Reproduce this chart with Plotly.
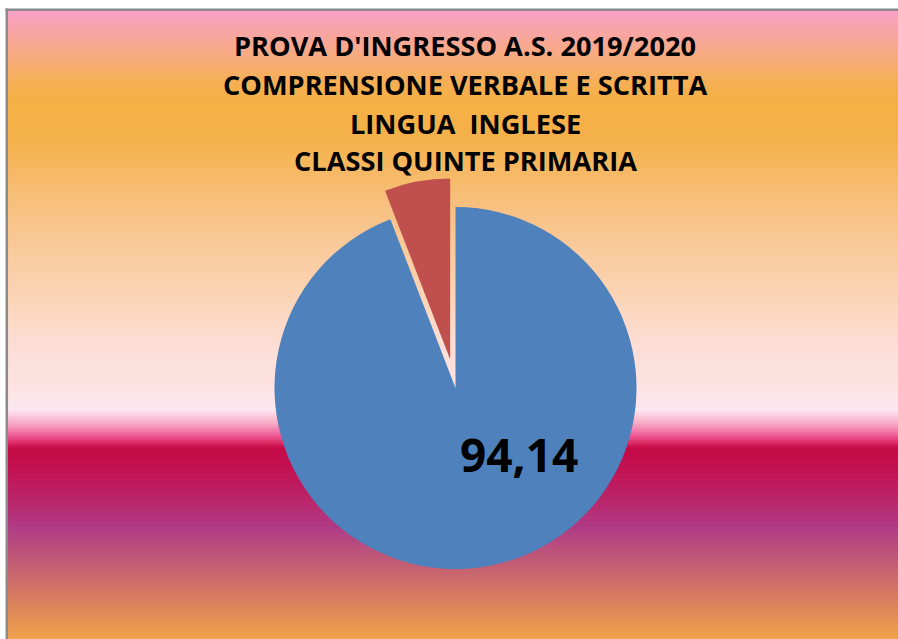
import plotly.graph_objects as go

# ---- data ----
categories = ["Corrette", "Errate"]
values = [94.14, 5.86]
title_lines = [
    "PROVA D'INGRESSO A.S. 2019/2020",
    "COMPRENSIONE VERBALE E SCRITTA",
    "LINGUA&nbsp;&nbsp;INGLESE",
    "CLASSI QUINTE PRIMARIA",
]

# ---- style ----
W, H = 898, 639
slice_colors = ["#4F81BD", "#C0504D"]
pulls = [0, 0.16]
FONT = "Open Sans"

# background gradient stops (pixel y, colour)
grad_stops = [
    (10, "#F9A1C9"), (25, "#F9A3B0"), (45, "#F8A890"), (80, "#F6AF58"),
    (100, "#F5B045"), (140, "#F5B14A"), (190, "#F7BD74"), (240, "#F9C896"),
    (290, "#FBD3B2"), (340, "#FCDDD2"), (390, "#FDE3E4"), (410, "#FCE7F0"),
    (415, "#FAD0E0"), (425, "#F6A0C0"), (435, "#EF6098"), (443, "#DC2A66"),
    (448, "#C40A46"), (470, "#C21252"), (500, "#BA256A"), (527, "#B03B85"),
    (560, "#C05A76"), (600, "#D87E5E"), (639, "#F0A34A"),
]


def hex2rgb(h):
    h = h.lstrip("#")
    return tuple(int(h[i:i + 2], 16) for i in (0, 2, 4))


def color_at(y):
    for (y0, c0), (y1, c1) in zip(grad_stops[:-1], grad_stops[1:]):
        if y0 <= y <= y1:
            t = (y - y0) / (y1 - y0) if y1 > y0 else 0
            a, b = hex2rgb(c0), hex2rgb(c1)
            r = [round(a[i] + (b[i] - a[i]) * t) for i in range(3)]
            return "rgb(%d,%d,%d)" % tuple(r)
    return grad_stops[-1][1]


def px(x):
    return x / W


def py(y):
    return 1 - y / H


shapes = []
step = 2
y = 10
while y < H:
    shapes.append(dict(type="rect", xref="paper", yref="paper",
                       x0=px(8), x1=1, y0=py(min(y + step + 0.6, H)), y1=py(y),
                       fillcolor=color_at(y + step / 2), line=dict(width=0),
                       layer="below"))
    y += step
# chart border (top and left visible)
shapes.append(dict(type="line", xref="paper", yref="paper", x0=px(5.5), x1=1,
                   y0=py(9.8), y1=py(9.8), line=dict(color="#8A8A8A", width=2.5)))
shapes.append(dict(type="line", xref="paper", yref="paper", x0=px(6.8), x1=px(6.8),
                   y0=py(8.6), y1=0, line=dict(color="#8A8A8A", width=2.5)))

# pie geometry: centre (455.5, 388), radius ~181 -> box = 2r(1+pull)
cx, cy, r = 455.5, 388, 181
half = r * (1 + max(pulls))

fig = go.Figure(go.Pie(
    labels=categories, values=values, sort=False, direction="clockwise",
    rotation=0, pull=pulls, marker=dict(colors=slice_colors, line=dict(width=0)),
    textinfo="none", hoverinfo="skip", showlegend=False,
    domain=dict(x=[px(cx - half), px(cx + half)], y=[py(cy + half), py(cy - half)]),
))

annotations = []
line_y = [45, 84, 123, 161]
for txt, ly in zip(title_lines, line_y):
    annotations.append(dict(text="<b>%s</b>" % txt, x=px(465), y=py(ly), xref="paper",
                            yref="paper", showarrow=False, xanchor="center",
                            yanchor="middle", font=dict(family=FONT, size=27.2, color="#000000")))
annotations.append(dict(text="<b>%s</b>" % ("%.2f" % values[0]).replace(".", ","),
                        x=px(519), y=py(454), xref="paper", yref="paper", showarrow=False,
                        xanchor="center", yanchor="middle",
                        font=dict(family=FONT, size=46, color="#000000")))

fig.update_layout(width=W, height=H, margin=dict(l=0, r=0, t=0, b=0),
                  paper_bgcolor="white", plot_bgcolor="white",
                  shapes=shapes, annotations=annotations)
fig.write_html("out.html", config={"displayModeBar": False},
               post_script="document.body.style.margin='0';document.body.style.overflow='hidden';")
